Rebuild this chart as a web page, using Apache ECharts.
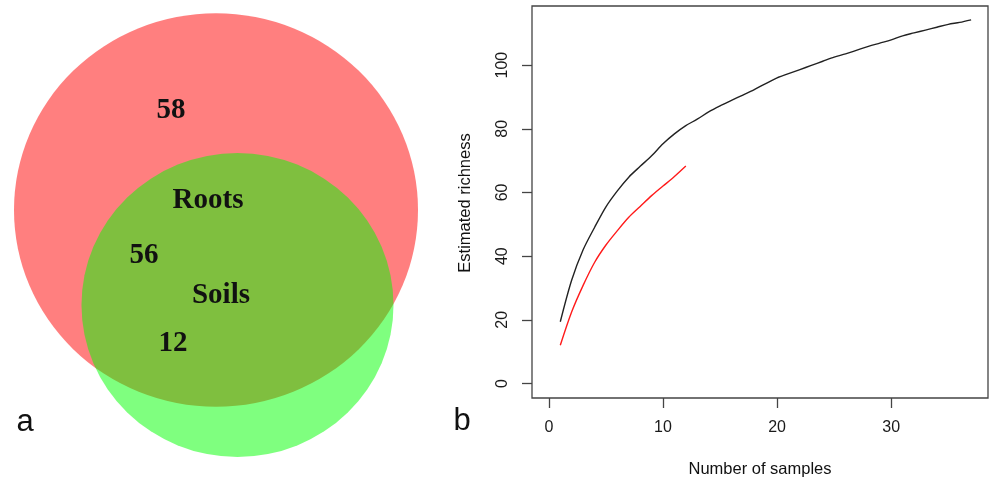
<!DOCTYPE html>
<html>
<head>
<meta charset="utf-8">
<script src="https://cdn.jsdelivr.net/npm/echarts@6/dist/echarts.min.js"></script>
<style>
  html, body { margin: 0; padding: 0; background: #fff; }
  #main { width: 992px; height: 478px; }
</style>
</head>
<body>
<div id="main"></div>
<script>
// panel a: venn counts (roots only, shared, soils only)
const vennNames = ['Roots', 'Soils'];
const vennCounts = [58, 56, 12];

// panel b: estimated richness vs number of samples
const samplesRoots = [1, 2, 3, 4, 5, 6, 7, 8, 9, 10, 11, 12, 13, 14, 15, 16, 17, 18, 19, 20,
  21, 22, 23, 24, 25, 26, 27, 28, 29, 30, 31, 32, 33, 34, 35, 36, 37];
const richnessRoots = [19.4, 32.5, 42, 49, 55.5, 60.5, 64.8, 68.2, 71.5, 75.3, 78.4, 81, 83, 85.3,
  87.2, 88.9, 90.6, 92.3, 94.2, 96, 97.3, 98.6, 99.9, 101.2, 102.5, 103.5, 104.7, 105.9, 106.9,
  107.9, 109.2, 110.1, 111, 111.9, 112.8, 113.4, 114.2];
const samplesSoils = [1, 2, 3, 4, 5, 6, 7, 8, 9, 10, 11, 12];
const richnessSoils = [12, 22.5, 30.8, 38, 43.5, 48, 52.2, 55.6, 59, 62, 65, 68.3];

const xTicks = [0, 10, 20, 30];
const yTicks = [0, 20, 40, 60, 80, 100];

const rootsTotal = vennCounts[0] + vennCounts[1];
const soilsTotal = vennCounts[1] + vennCounts[2];

const chart = echarts.init(document.getElementById('main'));

const k = 18.92;  // px per sqrt(count)
const circleSize = (v) => [2 * k * Math.sqrt(v[2]), 2 * k * 0.974 * Math.sqrt(v[2])];

const sans = '"Liberation Sans", Arial, sans-serif';
const serif = '"Liberation Serif", "Times New Roman", serif';

function txt(x, y, text, font, rot) {
    return {
        type: 'text', x: x, y: y, rotation: rot || 0, z: 100,
        style: {
            text: text, font: font, fill: '#111',
            align: 'center', verticalAlign: 'middle',
            textAlign: 'center', textVerticalAlign: 'middle'
        }
    };
}

const option = {
    animation: false,
    grid: [
        {left: 532, top: 6, width: 456, height: 392, show: true, borderColor: '#444', borderWidth: 1.3},
        {left: 0, top: 0, width: 440, height: 478}
    ],
    xAxis: [{
        type: 'value', gridIndex: 0, min: -1.48, max: 38.48,
        axisLine: {show: false, onZero: false}, splitLine: {show: false},
        axisTick: {customValues: xTicks, length: 10, lineStyle: {color: '#444', width: 1.3}},
        axisLabel: {customValues: xTicks, margin: 22, fontSize: 16, fontFamily: sans, color: '#1a1a1a'}
    }, {
        type: 'value', gridIndex: 1, min: 0, max: 440, show: false
    }],
    yAxis: [{
        type: 'value', gridIndex: 0, min: -4.56, max: 118.56,
        axisLine: {show: false, onZero: false}, splitLine: {show: false},
        axisTick: {customValues: yTicks, length: 10, lineStyle: {color: '#444', width: 1.3}},
        axisLabel: {customValues: yTicks, rotate: 90, margin: 21, fontSize: 16, fontFamily: sans, color: '#1a1a1a'}
    }, {
        type: 'value', gridIndex: 1, min: 0, max: 478, inverse: true, show: false
    }],
    series: [
        {
            name: vennNames[0], type: 'scatter', xAxisIndex: 1, yAxisIndex: 1,
            symbol: 'circle', symbolSize: circleSize,
            itemStyle: {color: 'rgba(255,0,0,0.5)', opacity: 1},
            data: [[216, 210, rootsTotal]], z: 1
        },
        {
            name: vennNames[1], type: 'scatter', xAxisIndex: 1, yAxisIndex: 1,
            symbol: 'circle', symbolSize: circleSize,
            itemStyle: {color: 'rgba(0,255,0,0.5)', opacity: 1},
            data: [[237.5, 305, soilsTotal]], z: 2
        },
        {
            name: 'Roots', type: 'line', xAxisIndex: 0, yAxisIndex: 0,
            showSymbol: false, smooth: 0.3,
            lineStyle: {color: '#222', width: 1.4},
            data: samplesRoots.map((x, i) => [x, richnessRoots[i]])
        },
        {
            name: 'Soils', type: 'line', xAxisIndex: 0, yAxisIndex: 0,
            showSymbol: false, smooth: 0.3,
            lineStyle: {color: '#ff1a1a', width: 1.4},
            data: samplesSoils.map((x, i) => [x, richnessSoils[i]])
        }
    ],
    graphic: [
        txt(171, 111, String(vennCounts[0]), 'bold 29px ' + serif),
        txt(208, 201, vennNames[0], 'bold 29px ' + serif),
        txt(144, 256, String(vennCounts[1]), 'bold 29px ' + serif),
        txt(221, 296, vennNames[1], 'bold 29px ' + serif),
        txt(173, 344, String(vennCounts[2]), 'bold 29px ' + serif),
        txt(25, 422, 'a', '31px ' + sans),
        txt(462, 421, 'b', '31px ' + sans),
        txt(760, 469, 'Number of samples', '16.5px ' + sans),
        txt(465, 203, 'Estimated richness', '16.5px ' + sans, Math.PI / 2)
    ]
};

chart.setOption(option);
</script>
</body>
</html>
